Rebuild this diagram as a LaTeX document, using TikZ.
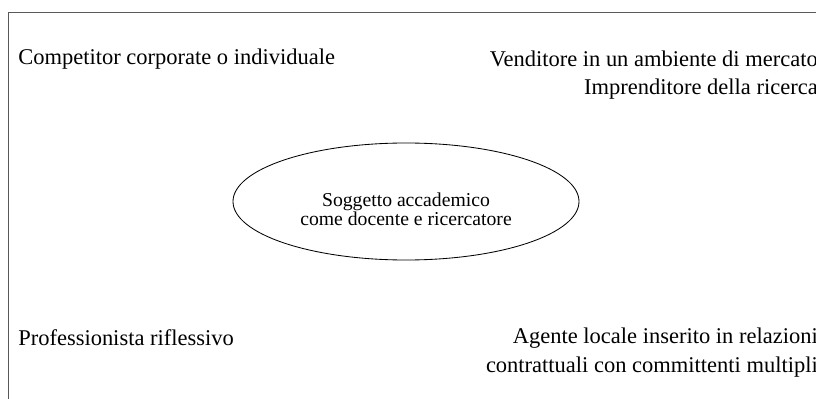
\documentclass[tikz,border=0pt]{standalone}
\usepackage{fontspec}
\setmainfont{Liberation Serif}
\usetikzlibrary{shapes.geometric}

\begin{document}
\begin{tikzpicture}[
	role/.style={inner sep=0pt,font=\fontsize{16}{20.6}\selectfont},
	centre/.style={shape=ellipse,draw=black,line width=0.6pt,inner sep=0pt,
		minimum width=8.65cm,minimum height=2.925cm},
	centretext/.style={align=center,inner sep=0pt,yshift=-0.2cm,
		font=\fontsize{14}{13.5}\selectfont}]
	\useasboundingbox (0,0) rectangle (20.4,9.95);
	\draw[gray!70!black,line width=0.6pt] (0.2,-0.1) -- (0.2,9.65) -- (20.5,9.65);

	\node[role,anchor=base west] (competitor) at (0.45, 8.325) {Competitor corporate o individuale};
	\node[role,anchor=base east,align=right] (venditore) at (20.45, 7.575) {Venditore in un ambiente di mercato\\Imprenditore della ricerca};
	\node[centre,label={[centretext]center:Soggetto accademico\\come docente e ricercatore}] (soggetto) at (10.15, 4.9125) {};
	\node[role,anchor=base west] (professionista) at (0.45, 1.325) {Professionista riflessivo};
	\node[role,anchor=base east,align=right] (agente) at (20.45, 0.65) {Agente locale inserito in relazioni\\contrattuali con committenti multipli};
\end{tikzpicture}
\end{document}
